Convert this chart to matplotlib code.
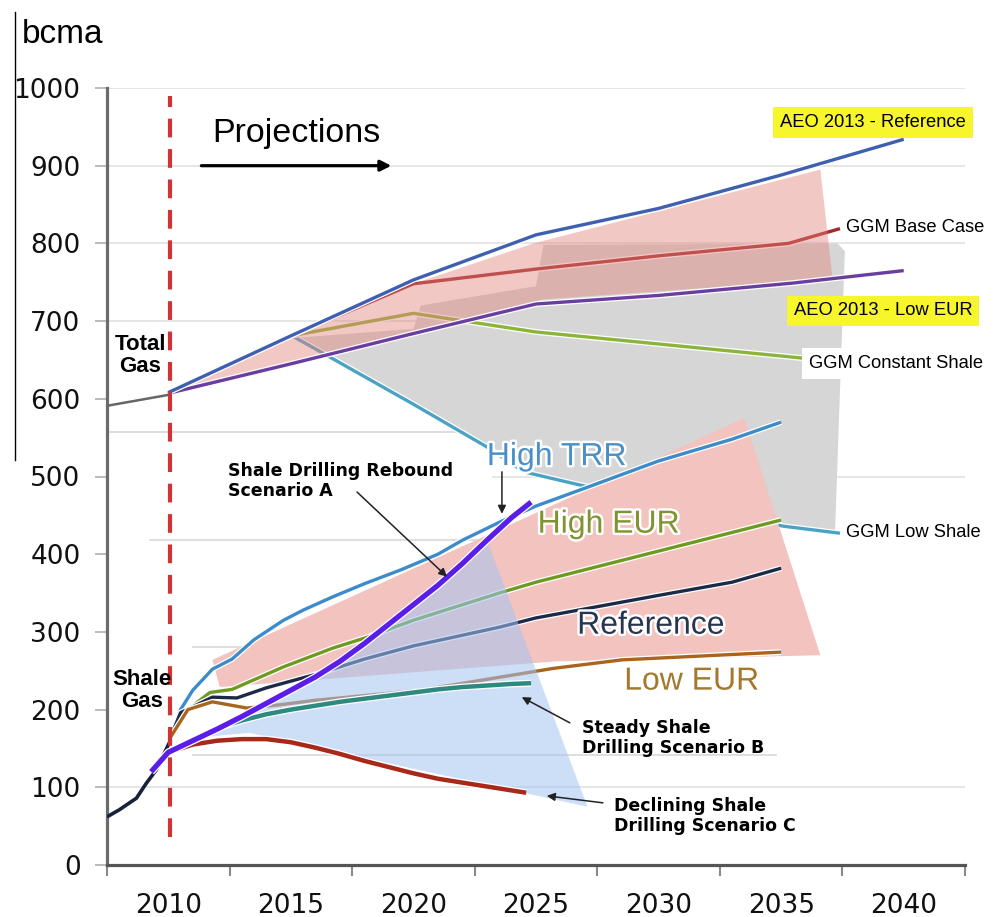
import matplotlib
matplotlib.use("Agg")
import matplotlib.pyplot as plt
import matplotlib.patheffects as pe
from matplotlib.lines import Line2D
from matplotlib.patches import Polygon

# ---------------- total gas (upper chart) ----------------
hist_total_years = [2007.5, 2010]
hist_total = [591, 605]

aeo_ref_years = [2010, 2015, 2020, 2025, 2030, 2035, 2040]
aeo_ref = [608, 681, 753, 811, 845, 888, 934]

ggm_base_years = [2010, 2015, 2020, 2025, 2030, 2035.3, 2037.4]
ggm_base = [607, 681, 748, 767, 784, 800, 819]

aeo_low_years = [2010, 2015, 2020, 2025, 2030, 2035.5, 2040]
aeo_low = [607, 645, 684, 722, 733, 749, 765]

ggm_const_years = [2010, 2015, 2020, 2025, 2036]
ggm_const = [607, 681, 710, 686, 652]

ggm_low_years = [2010, 2015, 2020, 2023, 2024.5, 2026.8, 2035.1, 2037.4]
ggm_low = [607, 682, 593, 538, 506, 489, 436, 427]

# ---------------- shale gas (lower chart) ----------------
hist_shale_years = [2007.5, 2008, 2008.7, 2009.1, 2009.5, 2009.9, 2010.1]
hist_shale = [62, 71, 86, 105, 122, 148, 161]

trr_years = [2010.1, 2010.5, 2011, 2011.8, 2012.6, 2013.5, 2014.7, 2015.5, 2016.7,
             2018, 2019.5, 2021, 2022, 2023.5, 2025, 2027, 2030, 2033, 2035]
trr = [165, 200, 225, 252, 265, 290, 315, 328, 345, 362, 380, 400, 418, 441, 462,
       485, 520, 548, 570]

heur_years = [2010.1, 2010.8, 2011.7, 2012.6, 2014.7, 2016.7, 2018.1, 2020, 2023.5,
              2025, 2030, 2035]
heur = [165, 200, 222, 226, 255, 279, 293, 315, 350, 364, 404, 444]

ref_years = [2010.1, 2010.5, 2011.8, 2012.8, 2014, 2016.2, 2018, 2020, 2023.5, 2025,
             2030, 2033, 2035]
ref = [165, 196, 216, 215, 228, 247, 265, 282, 306, 318, 347, 364, 382]

leur_years = [2010.1, 2010.8, 2011.8, 2013.2, 2014.5, 2016, 2020.3, 2025.7, 2028.5, 2035]
leur = [165, 200, 210, 202, 206, 212, 225, 253, 264, 274]

scen_a_years = [2009.3, 2010, 2011, 2012, 2013, 2014, 2015, 2016, 2017, 2018, 2019,
                2020, 2021, 2022, 2023, 2024, 2024.8]
scen_a = [120, 145, 160, 175, 191, 208, 225, 242, 262, 285, 310, 335, 360, 388, 418,
          447, 467]

scen_b_years = [2010, 2011, 2012, 2013, 2014, 2015, 2016, 2017, 2018, 2019, 2020,
                2021, 2022, 2023, 2024, 2024.8]
scen_b = [145, 160, 176, 186, 194, 200, 205, 210, 214, 218, 222, 226, 229, 231, 233, 234]

scen_c_years = [2010, 2011, 2012, 2013, 2014, 2015, 2016, 2017, 2018, 2019, 2020,
                2021, 2022, 2023, 2024, 2024.6]
scen_c = [145, 155, 160, 162, 162, 158, 151, 143, 134, 126, 118, 111, 106, 101, 96, 93]

# ---------------- shaded ranges ----------------
pink_up_years = [2010, 2015, 2020, 2024.9, 2036.6, 2037.1, 2025.3, 2020, 2015]
pink_up_vals = [607, 678, 748, 800, 895, 754, 728, 684, 645]

gray_years = [2015, 2020, 2020.3, 2025, 2025.3, 2037.3, 2037.6, 2037.2,
              2035, 2026.8, 2025, 2023, 2020]
gray_vals = [678, 690, 720, 745, 798, 800, 790, 430, 436, 489, 505, 538, 593]

pink_low_years = [2011.8, 2033.5, 2036.6, 2025.8, 2012.1]
pink_low_vals = [264, 575, 270, 262, 229]

blue_extra_years = [2027.1, 2013.3, 2011.5]
blue_extra_vals = [75, 170, 165]

x_labels = ["2010", "2015", "2020", "2025", "2030", "2035", "2040"]

arial = ["Liberation Sans", "DejaVu Sans"]
halo = [pe.withStroke(linewidth=3.5, foreground="white")]

fig = plt.figure(figsize=(9.93, 9.17), dpi=100)
ax = fig.add_axes([107 / 993, 52 / 917, 858 / 993, 777 / 917])
ax.set_xlim(2007.5, 2042.5)
ax.set_ylim(0, 1000)

# grid lines (the picture is a composite, so some are partial)
for v in [100, 700, 800, 900, 1000]:
    ax.axhline(v, color="#e2e2e2", lw=1.2, zorder=0.5)
ax.axhline(500, xmin=0.45, xmax=1, color="#e2e2e2", lw=1.2, zorder=0.5)
for v, a, b in [(557, 0.0, 0.45), (418, 0.05, 0.78), (280, 0.1, 0.78), (142, 0.1, 0.78)]:
    ax.axhline(v, xmin=a, xmax=b, color="#d8d8d8", lw=1.2, zorder=0.5)

# shaded areas
ax.add_patch(Polygon(list(zip(gray_years, gray_vals)), closed=True,
                     facecolor="#d6d6d6", edgecolor="none", zorder=1))


def line(x, y, color, lw, z, halo_on=True):
    kw = {}
    if halo_on:
        kw["path_effects"] = [pe.withStroke(linewidth=lw + 1.8, foreground="white")]
    ax.plot(x, y, color=color, lw=lw, zorder=z, solid_capstyle="butt", **kw)


line(ggm_low_years, ggm_low, "#4aa3c4", 2.4, 2)
line(ggm_const_years, ggm_const, "#8cb33a", 2.4, 2)
line(ggm_base_years, ggm_base, "#a52a2a", 2.4, 2)
line(aeo_low_years, aeo_low, "#6a3ea0", 2.4, 3.5)

ax.add_patch(Polygon(list(zip(pink_up_years, pink_up_vals)), closed=True,
                     facecolor="#e3827d", alpha=0.44, edgecolor="none", zorder=3))
line(aeo_ref_years, aeo_ref, "#3f5fb0", 2.4, 4)
line(hist_total_years, hist_total, "#666666", 1.8, 4, halo_on=False)

ax.add_patch(Polygon(list(zip(pink_low_years, pink_low_vals)), closed=True,
                     facecolor="#f2c3bf", edgecolor="none", zorder=3))

line(trr_years, trr, "#3d8cc9", 2.4, 4)
line(heur_years, heur, "#6f9a22", 2.4, 4)
line(ref_years, ref, "#1c2a48", 2.4, 4)
line(leur_years, leur, "#a8651e", 2.4, 4)
line(hist_shale_years, hist_shale, "#17223a", 2.6, 4, halo_on=False)

# light blue range of the drilling scenarios, drawn over the EIA lines
blue_years = [y for y in scen_a_years if 2010 <= y <= 2023.8] + blue_extra_years
blue_vals = [v for y, v in zip(scen_a_years, scen_a) if 2010 <= y <= 2023.8] + blue_extra_vals
ax.add_patch(Polygon(list(zip(blue_years, blue_vals)), closed=True,
                     facecolor="#a4c3f2", alpha=0.55, edgecolor="none", zorder=5))

line(scen_c_years, scen_c, "#a8281a", 3.2, 6)
line(scen_b_years, scen_b, "#2e8a80", 3.2, 6)
line(scen_a_years, scen_a, "#5a1ee8", 3.8, 6)

# start of projections
ax.plot([2010.05, 2010.05], [36, 990], color="#d23333", lw=3, dashes=(4.5, 2.8), zorder=7)

# axes styling
for s in ["top", "right"]:
    ax.spines[s].set_visible(False)
ax.spines["left"].set_color("#6b6b6b")
ax.spines["left"].set_linewidth(2.3)
ax.spines["bottom"].set_color("#555555")
ax.spines["bottom"].set_linewidth(2.3)
ax.set_yticks(range(0, 1001, 100))
ax.tick_params(axis="y", length=9, width=1.3, color="#b5b5b5", pad=10, labelsize=19)
ax.set_xticks(range(2010, 2041, 5))
ax.set_xticklabels(x_labels)
ax.set_xticks([2007.5 + 5 * k for k in range(8)], minor=True)
ax.tick_params(axis="x", which="major", length=0, pad=20, labelsize=19)
ax.tick_params(axis="x", which="minor", length=8, width=1.5, color="#8a8a8a")
for t in ax.get_xticklabels() + ax.get_yticklabels():
    t.set_color("#111111")

# texts
fig.text(22 / 993, 1 - 43 / 917, "bcma", fontsize=24, family=arial, va="baseline")
fig.add_artist(Line2D([15 / 993, 15 / 993], [1 - 12 / 917, 1 - 460 / 917],
                      color="black", lw=1))

ax.text(2011.8, 942, "Projections", fontsize=24.5, family=arial, va="center", zorder=8)
ax.annotate("", xy=(2019.1, 900), xytext=(2011.35, 900), zorder=8,
            arrowprops=dict(arrowstyle="-|>", color="black", lw=2.3,
                            mutation_scale=16, shrinkA=0, shrinkB=0))

ax.text(2008.85, 656, "Total\nGas", fontsize=16, family=arial, weight="bold",
        ha="center", va="center", linespacing=1.05, zorder=8)
ax.text(2008.93, 225, "Shale\nGas", fontsize=16, family=arial, weight="bold",
        ha="center", va="center", linespacing=1.05, zorder=8)

yellow = dict(boxstyle="square,pad=0.38", facecolor="#f7f52c", edgecolor="none")
ax.text(2038.74, 956, "AEO 2013 - Reference", fontsize=13.2, family=arial,
        ha="center", va="center", bbox=yellow, zorder=8)
ax.text(2039.15, 713, "AEO 2013 - Low EUR", fontsize=13.2, family=arial,
        ha="center", va="center", bbox=yellow, zorder=8)
ax.text(2037.65, 820, "GGM Base Case", fontsize=13.2, family=arial, va="center", zorder=8)
ax.text(2036.15, 646, "GGM Constant Shale", fontsize=13.2, family=arial, va="center",
        bbox=dict(boxstyle="square,pad=0.38", facecolor="white", edgecolor="none"),
        zorder=8)
ax.text(2037.65, 428, "GGM Low Shale", fontsize=13.2, family=arial, va="center", zorder=8)

for x, y, s, c in [(2025.85, 525, "High TRR", "#4a90c8"),
                   (2027.97, 438, "High EUR", "#7f9330"),
                   (2029.69, 308, "Reference", "#283550"),
                   (2031.36, 236, "Low EUR", "#a5782c")]:
    ax.text(x, y, s, fontsize=23, family=arial, color=c, ha="center", va="center",
            path_effects=halo, zorder=8)

bold = dict(fontsize=12.5, family=["DejaVu Sans"], weight="bold", va="top",
            linespacing=1.15, zorder=8)
ax.text(2012.43, 519, "Shale Drilling Rebound\nScenario A", **bold)
ax.text(2026.87, 188, "Steady Shale\nDrilling Scenario B", **bold)
ax.text(2028.18, 87.5, "Declining Shale\nDrilling Scenario C", **bold)

thin = dict(arrowstyle="-|>", color="#222222", lw=1.1, mutation_scale=12,
            shrinkA=0, shrinkB=0)
ax.annotate("", xy=(2021.37, 371), xytext=(2017.7, 480), arrowprops=thin, zorder=8)
ax.annotate("", xy=(2023.61, 452), xytext=(2023.61, 506), arrowprops=thin, zorder=8)
ax.annotate("", xy=(2024.42, 216), xytext=(2026.38, 183), arrowprops=thin, zorder=8)
ax.annotate("", xy=(2025.44, 89), xytext=(2027.73, 80), arrowprops=thin, zorder=8)

fig.savefig("out.png", dpi=100)
